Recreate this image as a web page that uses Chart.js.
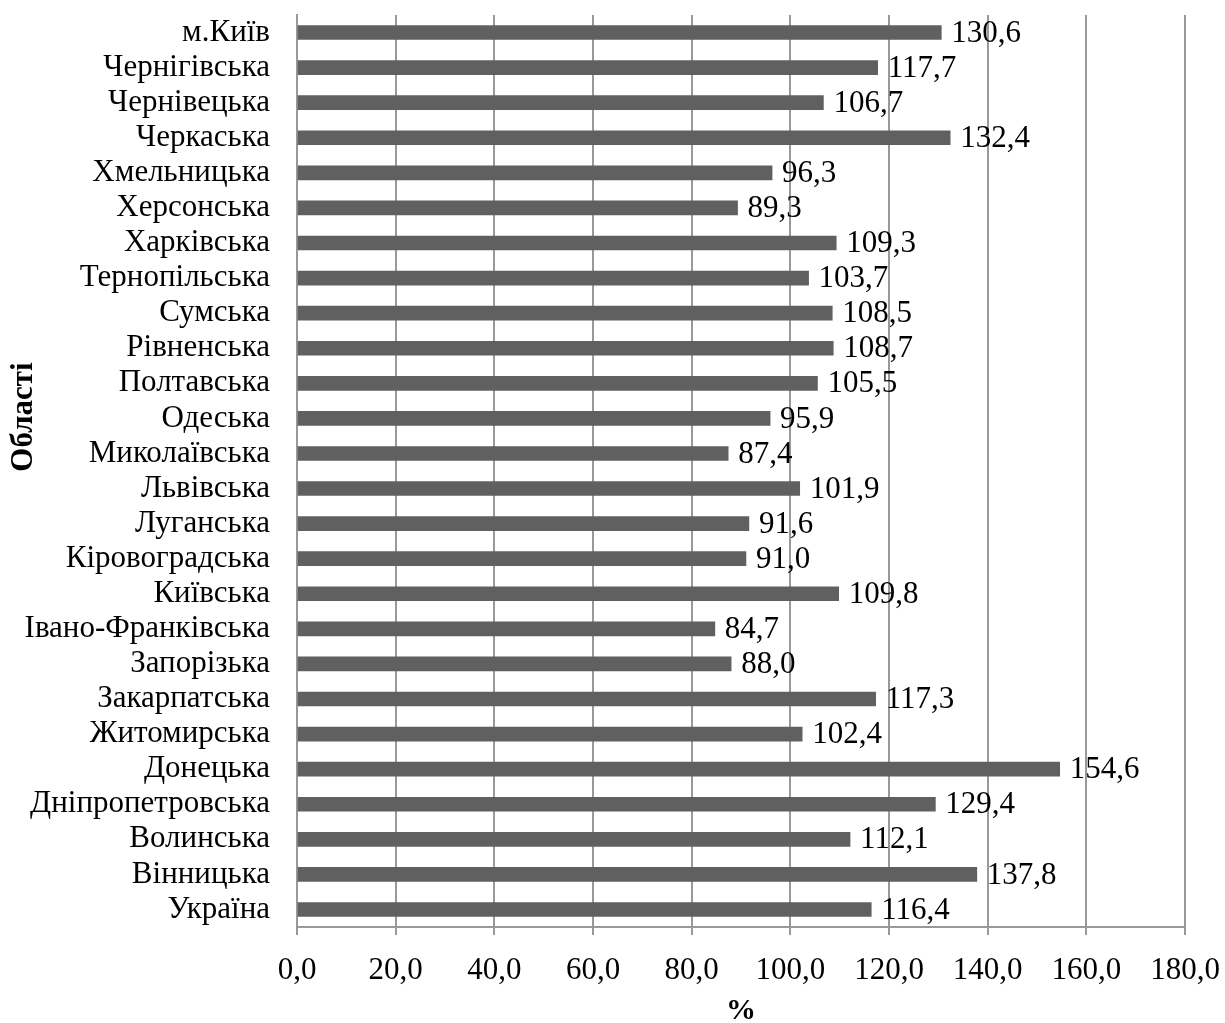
<!DOCTYPE html>
<html>
<head>
<meta charset="utf-8">
<script src="https://cdn.jsdelivr.net/npm/chart.js@4/dist/chart.umd.min.js"></script>
<style>
  html, body { margin: 0; padding: 0; background: #fff; }
  #wrap { width: 1225px; height: 1023px; }
</style>
</head>
<body>
<div id="wrap"><canvas id="regions"></canvas></div>
<script>
var regions = ["м.Київ", "Чернігівська", "Чернівецька", "Черкаська", "Хмельницька",
  "Херсонська", "Харківська", "Тернопільська", "Сумська", "Рівненська", "Полтавська",
  "Одеська", "Миколаївська", "Львівська", "Луганська", "Кіровоградська", "Київська",
  "Івано-Франківська", "Запорізька", "Закарпатська", "Житомирська", "Донецька",
  "Дніпропетровська", "Волинська", "Вінницька", "Україна"];
var percent = [130.6, 117.7, 106.7, 132.4, 96.3, 89.3, 109.3, 103.7, 108.5, 108.7, 105.5,
  95.9, 87.4, 101.9, 91.6, 91.0, 109.8, 84.7, 88.0, 117.3, 102.4, 154.6, 129.4, 112.1,
  137.8, 116.4];
var xTicks = [0, 20, 40, 60, 80, 100, 120, 140, 160, 180];

var serif = "'Liberation Serif', 'Times New Roman', serif";

function comma(v) {
  return v.toFixed(1).replace('.', ',');
}

// value labels to the right of each bar + the rotated y title
var valueLabels = {
  id: 'valueLabels',
  afterDatasetsDraw: function (chart) {
    var ctx = chart.ctx;
    var meta = chart.getDatasetMeta(0);
    ctx.save();
    ctx.font = '31px ' + serif;
    ctx.fillStyle = '#000';
    ctx.textBaseline = 'middle';
    ctx.textAlign = 'left';
    meta.data.forEach(function (bar, i) {
      ctx.fillText(comma(percent[i]), bar.x + 10, bar.y + 1);
    });
    ctx.restore();

    ctx.save();
    ctx.translate(24, 417);
    ctx.rotate(-Math.PI / 2);
    ctx.font = 'bold 31px ' + serif;
    ctx.fillStyle = '#000';
    ctx.textAlign = 'center';
    ctx.textBaseline = 'middle';
    ctx.fillText('Області', 0, 0);
    ctx.restore();
  }
};

var ctx = document.getElementById('regions').getContext('2d');
var chart = new Chart(ctx, {
  type: 'bar',
  data: {
    labels: regions,
    datasets: [{
      data: percent,
      backgroundColor: '#606060',
      barThickness: 14
    }]
  },
  options: {
    indexAxis: 'y',
    responsive: true,
    maintainAspectRatio: false,
    animation: false,
    layout: { padding: { top: 15, right: 40, left: 0, bottom: 0 } },
    plugins: {
      legend: { display: false },
      tooltip: { enabled: false }
    },
    scales: {
      x: {
        min: 0,
        max: 180,
        afterBuildTicks: function (s) {
          s.ticks = xTicks.map(function (v) { return { value: v }; });
        },
        afterFit: function (s) {
          s.height = 96;
          s.paddingLeft = 0;
          s.paddingRight = 0;
        },
        grid: {
          color: '#999',
          lineWidth: 2,
          tickLength: 8,
          drawTicks: true
        },
        border: { color: '#999', width: 2 },
        ticks: {
          color: '#000',
          padding: 17,
          maxRotation: 0,
          font: { family: serif, size: 31 },
          callback: function (v) { return comma(v); }
        },
        title: {
          display: true,
          text: '%',
          color: '#000',
          padding: { top: 8, bottom: -6 },
          font: { family: serif, size: 30, weight: 'bold' }
        }
      },
      y: {
        afterFit: function (s) {
          s.width = 297;
          s.paddingTop = 0;
          s.paddingBottom = 0;
        },
        grid: { display: false },
        border: { color: '#999', width: 2 },
        ticks: {
          color: '#000',
          padding: 19,
          autoSkip: false,
          font: { family: serif, size: 31 }
        },
        title: { display: false }
      }
    }
  },
  plugins: [valueLabels]
});
</script>
</body>
</html>
